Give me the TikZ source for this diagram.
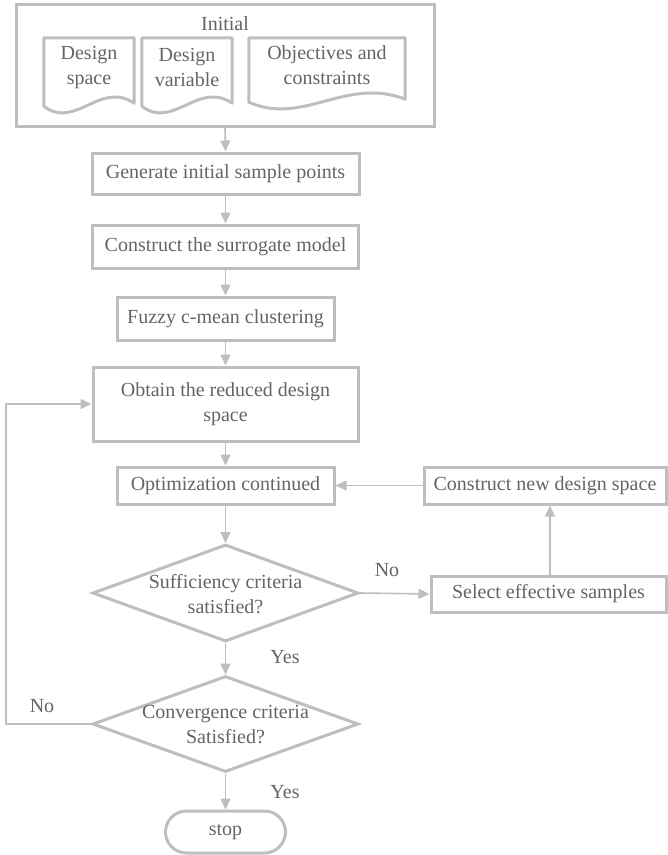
\documentclass[tikz,border=0pt]{standalone}
\usepackage{fontspec}
\setmainfont{Liberation Serif}
\newfontfamily\tnr{Liberation Serif}
\usetikzlibrary{shapes.geometric,arrows.meta,calc}
\definecolor{lnc}{RGB}{190,190,190}
\definecolor{txc}{RGB}{100,100,100}
\tikzset{
  txt/.style={text=txc,font=\tnr\fontsize{20}{25}\selectfont,align=center,inner sep=0pt},
  procbox/.style={txt,draw=lnc,line width=3pt,rectangle,inner sep=0pt},
  docbox/.style={rectangle,inner sep=0pt,draw=none},
  decbox/.style={diamond,draw=lnc,line width=3pt,inner sep=0pt},
  conn/.style={draw=lnc,line width=1.6pt,-{Triangle[length=11pt,width=10pt]}},
  docline/.style={draw=lnc,line width=3pt,line join=round},
}
\newcommand\mydocshape[1]{%
  \draw[docline] (#1.north west) -- (#1.south west)
    .. controls ($(#1.south west)!0.35!(#1.south east)+(0,24)$) and ($(#1.south west)!0.62!(#1.south east)+(0,-26)$)
    .. ($(#1.south east)+(0,-3)$) -- (#1.north east) -- cycle;}
\begin{document}
\begin{tikzpicture}[x=1pt,y=-1pt]
\useasboundingbox (0,0) rectangle (668,855);
% Initial group
\node[procbox,minimum width=418,minimum height=122] (init) at (225,65) {};
\node[txt] (initt) at (225,24) {Initial};
\node[docbox,minimum width=90,minimum height=68] (doc1) at (89,72) {};
\node[docbox,minimum width=90,minimum height=68] (doc2) at (187,72) {};
\node[docbox,minimum width=156,minimum height=64] (doc3) at (327,70) {};
\mydocshape{doc1}
\mydocshape{doc2}
\mydocshape{doc3}
\node[txt] (doc1t) at (89,67.5) {Design\\space};
\node[txt] (doc2t) at (187,67.5) {Design\\variable};
\node[txt] (doc3t) at (327,65.5) {Objectives and\\constraints};
% main column
\node[procbox,minimum width=267,minimum height=41] (gen) at (225.5,173.5) {Generate initial sample points};
\node[procbox,minimum width=266,minimum height=43] (surr) at (225.5,246.5) {Construct the surrogate model};
\node[procbox,minimum width=217,minimum height=43] (fuzzy) at (225.5,318.5) {Fuzzy c-mean clustering};
\node[procbox,minimum width=265,minimum height=74] (obtain) at (225.5,404) {Obtain the reduced design\\space};
\node[procbox,minimum width=217,minimum height=37] (optim) at (225.5,485.5) {Optimization continued};
\node[procbox,minimum width=242,minimum height=37] (newds) at (545,485.5) {Construct new design space};
\node[procbox,minimum width=235,minimum height=36] (select) at (548.5,594) {Select effective samples};
\node[decbox,minimum width=266,minimum height=97] (d1) at (225.5,593) {};
\node[txt] (d1t) at (225.5,594.5) {Sufficiency criteria\\satisfied?};
\node[decbox,minimum width=266,minimum height=96] (d2) at (225.5,724) {};
\node[txt] (d2t) at (225.5,724.5) {Convergence criteria\\Satisfied?};
\node[procbox,minimum width=120,minimum height=42,rounded corners=21pt] (stop) at (225.5,832) {stop};
% labels
\node[txt] (lno1) at (387,570) {No};
\node[txt] (lyes1) at (285,657) {Yes};
\node[txt] (lno2) at (42,706) {No};
\node[txt] (lyes2) at (285,792) {Yes};
% connectors
\draw[conn] (init.south) -- (gen.north);
\draw[conn] (gen.south) -- (surr.north);
\draw[conn] (surr.south) -- (fuzzy.north);
\draw[conn] (fuzzy.south) -- (obtain.north);
\draw[conn] (obtain.south) -- (optim.north);
\draw[conn] (optim.south) -- (d1.north);
\draw[conn] (d1.south) -- (d2.north);
\draw[conn] (d2.south) -- (stop.north);
\draw[conn] (d1.east) -- (select.west);
\coordinate (upx) at (550,594);
\draw[conn] (upx |- select.north) -- (upx |- newds.south);
\draw[conn] (newds.west) -- (optim.east);
\coordinate (lp) at (6,404);
\draw[conn] (d2.west) -| (lp) -- (obtain.west);
\end{tikzpicture}
\end{document}
